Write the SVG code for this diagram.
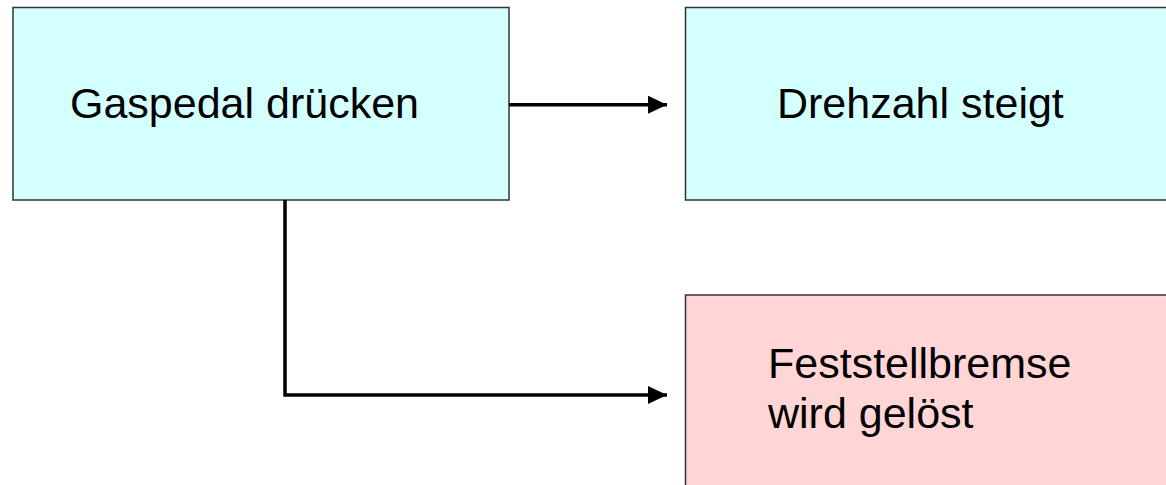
<svg xmlns="http://www.w3.org/2000/svg" width="1166" height="485" viewBox="0 0 1166 485">
  <style>
    .box { stroke: #333333; stroke-width: 1.5; }
    .blue { fill: #d4ffff; }
    .pink { fill: #ffd5d5; }
    .lbl { font-family: "Liberation Sans", Arial, sans-serif; font-size: 43px; fill: #000000; }
    .conn { fill: none; stroke: #000000; stroke-width: 3.5; }
  </style>
  <defs>
    <marker id="arrow" markerUnits="userSpaceOnUse" markerWidth="20" markerHeight="20" refX="19" refY="9" orient="auto">
      <path d="M0,0 L19,9 L0,18 Z" fill="#000000"/>
    </marker>
  </defs>
  <rect width="1166" height="485" fill="#ffffff"/>
  <g id="node-gaspedal">
    <rect class="box blue" x="13" y="7.5" width="496" height="192.5"/>
    <text class="lbl" x="70" y="118">Gaspedal drücken</text>
  </g>
  <g id="node-drehzahl">
    <rect class="box blue" x="685.5" y="7.5" width="500" height="192.5"/>
    <text class="lbl" x="777" y="117.5">Drehzahl steigt</text>
  </g>
  <g id="node-feststellbremse">
    <rect class="box pink" x="685.5" y="295" width="500" height="210"/>
    <text class="lbl" x="768" y="377.5">Feststellbremse</text>
    <text class="lbl" x="768" y="427.5">wird gelöst</text>
  </g>
  <g id="connectors">
    <path class="conn" d="M509,104.7 L667,104.7" marker-end="url(#arrow)"/>
    <path class="conn" d="M285,200 L285,395 L667,395" marker-end="url(#arrow)"/>
  </g>
</svg>
